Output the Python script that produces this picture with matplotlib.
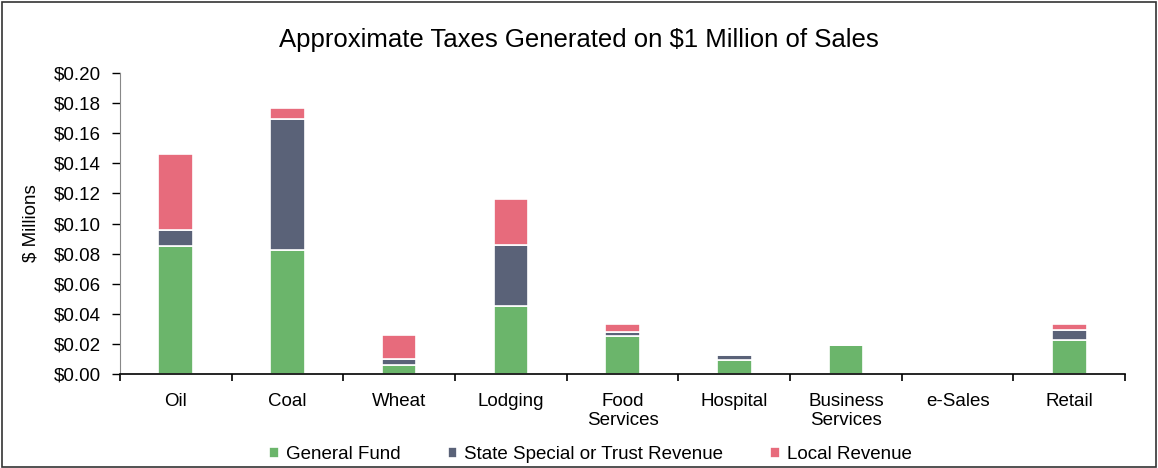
import numpy as np
import matplotlib.pyplot as plt
from matplotlib.ticker import FuncFormatter, FixedLocator

plt.rcParams['font.family'] = ['Liberation Sans', 'DejaVu Sans']

categories = ['Oil', 'Coal', 'Wheat', 'Lodging', 'Food\nServices', 'Hospital',
              'Business\nServices', 'e-Sales', 'Retail']
general_fund = [0.085, 0.0824, 0.006, 0.045, 0.0252, 0.0093, 0.0193, 0.0, 0.0226]
state_special = [0.011, 0.087, 0.004, 0.041, 0.0027, 0.003, 0.0, 0.0, 0.0066]
local_revenue = [0.050, 0.0075, 0.016, 0.030, 0.005, 0.0, 0.0005, 0.0, 0.004]

green = '#6BB56B'
slate = '#5A6278'
pink = '#E76B7C'

fig = plt.figure(figsize=(11.58, 4.68), dpi=100)
ax = fig.add_axes([0.1036, 0.2009, 0.868, 0.643])

x = np.arange(len(categories))
w = 0.31
gf = np.array(general_fund)
ss = np.array(state_special)
lr = np.array(local_revenue)
ax.bar(x, gf, w, color=green, edgecolor='white', linewidth=1.2, label='General Fund')
ax.bar(x, ss, w, bottom=gf, color=slate, edgecolor='white', linewidth=1.2,
       label='State Special or Trust Revenue')
ax.bar(x, lr, w, bottom=gf + ss, color=pink, edgecolor='white', linewidth=1.2,
       label='Local Revenue')

ax.set_xlim(-0.5, len(categories) - 0.5)
ax.set_ylim(0, 0.20)
ax.set_yticks(np.arange(0, 0.201, 0.02))
ax.yaxis.set_major_formatter(FuncFormatter(lambda v, p: '${:.2f}'.format(v)))
ax.set_xticks(x)
ax.set_xticklabels(categories, fontsize=13.5, linespacing=1.1)
ax.xaxis.set_minor_locator(FixedLocator(np.arange(-0.5, len(categories), 1.0)))
ax.tick_params(axis='x', which='major', length=0, pad=14)
ax.tick_params(axis='x', which='minor', length=5, width=1.2, direction='out')
ax.tick_params(axis='y', labelsize=13.5, length=6, width=1.0, direction='out', pad=8)
for s in ['top', 'right']:
    ax.spines[s].set_visible(False)
ax.spines['left'].set_color('#888888')
ax.spines['bottom'].set_linewidth(1.2)
ax.set_ylabel('$ Millions', fontsize=13.5, labelpad=10)

fig.suptitle('Approximate Taxes Generated on $1 Million of Sales', fontsize=18.5, y=0.94)

fig.legend(loc='lower center', bbox_to_anchor=(0.51, -0.025), ncol=3, frameon=False,
           fontsize=13.5, handlelength=0.5, handleheight=0.5, columnspacing=2.5,
           handletextpad=0.4)

fig.patches.append(plt.Rectangle((0.002, 0.002), 0.996, 0.994, transform=fig.transFigure,
                                 fill=False, edgecolor='#333333', linewidth=1.2))

fig.savefig('out.png', dpi=100)
